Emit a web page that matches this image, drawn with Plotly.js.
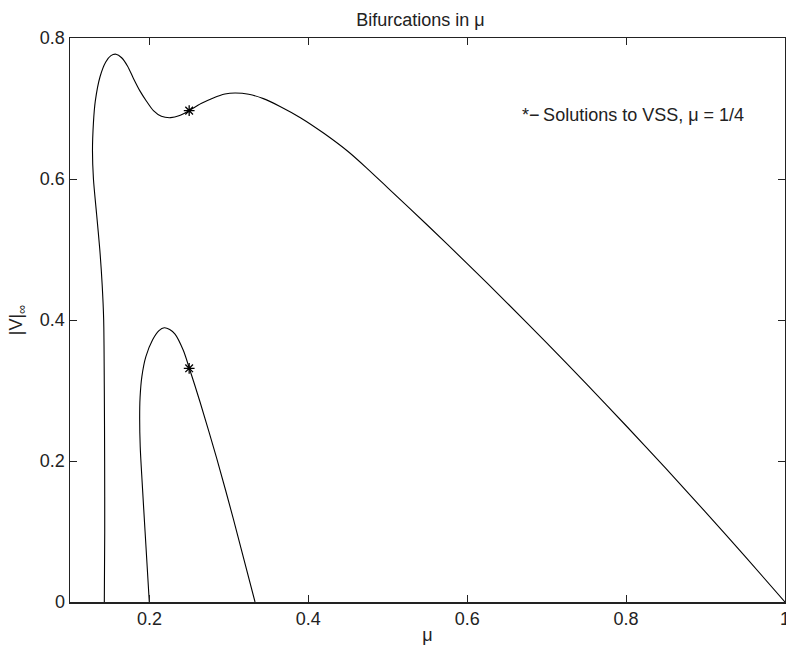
<!DOCTYPE html>
<html>
<head>
<meta charset="utf-8">
<script src="https://cdn.plot.ly/plotly-3.0.1.min.js"></script>
<style>
  html, body { margin: 0; padding: 0; background: #fff; }
  #chart { width: 786px; height: 645px; }
</style>
</head>
<body>
<div id="chart"></div>
<script>
// Outer bifurcation branch (from mu ~ 1/7 up and over to mu = 1)
var outerMu = [0.1432, 0.1437, 0.1436, 0.1432, 0.1424, 0.1405, 0.1375, 0.1335, 0.1295, 0.1283, 0.1295, 0.1318,
  0.1378, 0.1450, 0.1515, 0.1579, 0.1650, 0.1725, 0.1797, 0.1880, 0.1965, 0.2050, 0.2150, 0.2267,
  0.2380, 0.2498, 0.2650, 0.2804, 0.2950, 0.3077, 0.3250, 0.3434, 0.3644, 0.3900, 0.4200, 0.4500,
  0.4735, 0.5000, 0.5500, 0.6000, 0.6500, 0.7000, 0.7500, 0.8000, 0.8500, 0.9000, 0.9500, 1.0000];
var outerV = [0.000, 0.100, 0.200, 0.300, 0.400, 0.450, 0.500, 0.550, 0.600, 0.640, 0.680, 0.710,
  0.745, 0.766, 0.775, 0.777, 0.772, 0.760, 0.743, 0.725, 0.710, 0.697, 0.689, 0.687,
  0.690, 0.697, 0.707, 0.715, 0.7205, 0.722, 0.7202, 0.714, 0.703, 0.687, 0.6645, 0.639,
  0.6155, 0.5875, 0.5344, 0.480, 0.4244, 0.3675, 0.3094, 0.250, 0.1894, 0.1275, 0.0644, 0.000];

// Inner bifurcation branch (from mu = 1/5 to mu = 1/3)
var innerMu = [0.1998, 0.1945, 0.1908, 0.1884, 0.1877, 0.1882, 0.1905, 0.1955, 0.2040, 0.2120, 0.2187,
  0.2255, 0.2322, 0.2426, 0.2502, 0.2636, 0.2846, 0.3056, 0.3329];
var innerV = [0.000, 0.100, 0.170, 0.220, 0.260, 0.290, 0.320, 0.348, 0.372, 0.385, 0.389,
  0.3865, 0.380, 0.357, 0.3315, 0.284, 0.204, 0.118, 0.000];

// Solutions to VSS at mu = 1/4
var starMu = [0.25, 0.25];
var starV = [0.697, 0.3315];

var xTicks = [0.2, 0.4, 0.6, 0.8, 1];
var xTickText = ['0.2', '0.4', '0.6', '0.8', '1'];
var yTicks = [0, 0.2, 0.4, 0.6, 0.8];
var yTickText = ['0', '0.2', '0.4', '0.6', '0.8'];

var FONT = 'Liberation Sans, Arial, Helvetica, sans-serif';

var traces = [
  { x: outerMu, y: outerV, mode: 'lines', line: { color: '#000', width: 1.1, shape: 'spline', smoothing: 0.8 }, hoverinfo: 'skip' },
  { x: innerMu, y: innerV, mode: 'lines', line: { color: '#000', width: 1.1, shape: 'spline', smoothing: 0.8 }, hoverinfo: 'skip' },
  { x: starMu, y: starV, mode: 'markers', marker: { symbol: 'asterisk-open', size: 9, color: '#000', line: { color: '#000', width: 1.3 } }, hoverinfo: 'skip' }
];

var axisCommon = {
  showgrid: false, zeroline: false, showline: true, linecolor: '#222', linewidth: 1.5,
  mirror: 'ticks', ticks: 'inside', ticklen: 7, tickwidth: 1, tickcolor: '#222',
  tickfont: { family: FONT, size: 18, color: '#222' }
};

var layout = {
  width: 786, height: 645,
  margin: { l: 70, r: 1, t: 38, b: 43, pad: 0 },
  paper_bgcolor: '#fff', plot_bgcolor: '#fff',
  showlegend: false,
  title: { text: 'Bifurcations in μ', font: { family: FONT, size: 18, color: '#222' }, x: 0.49, xref: 'paper', y: 0.97, yref: 'container', yanchor: 'middle' },
  xaxis: Object.assign({}, axisCommon, {
    range: [0.1, 1], tickvals: xTicks, ticktext: xTickText, ticklabeloverflow: 'allow',
    title: { text: 'μ', font: { family: FONT, size: 18, color: '#222' }, standoff: 4 }
  }),
  yaxis: Object.assign({}, axisCommon, {
    range: [0, 0.8], tickvals: yTicks, ticktext: yTickText,
    title: { text: '|V|<sub>∞</sub>', font: { family: FONT, size: 18, color: '#222' }, standoff: 12 }
  }),
  annotations: [{
    x: 0.6665, y: 0.691, xref: 'x', yref: 'y', xanchor: 'left', yanchor: 'middle',
    text: '*\u2212\u2009Solutions to VSS, μ = 1/4', showarrow: false,
    font: { family: FONT, size: 18, color: '#222' }
  }]
};

Plotly.newPlot('chart', traces, layout, { staticPlot: true, displayModeBar: false });
</script>
</body>
</html>
